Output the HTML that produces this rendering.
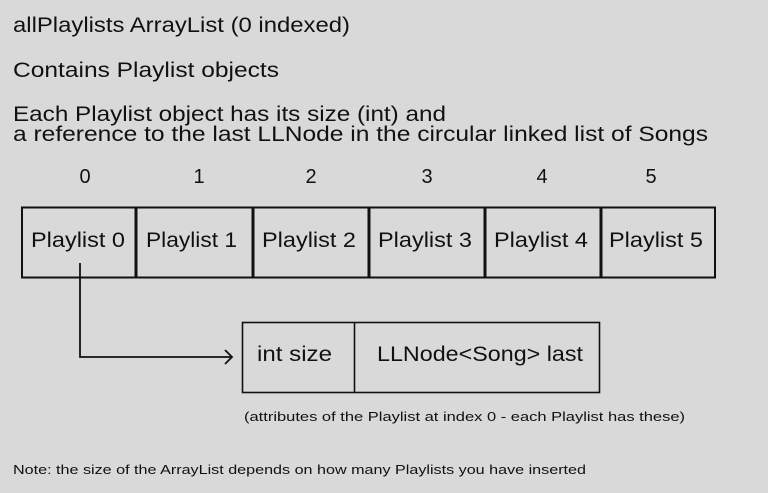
<!DOCTYPE html>
<html><head><meta charset="utf-8"><style>
html,body{margin:0;padding:0;background:#d9d9d9;}
svg{display:block;}
text{font-family:"Liberation Sans",sans-serif;fill:#111;}
</style></head><body>
<svg width="768" height="493" viewBox="0 0 768 493" xmlns="http://www.w3.org/2000/svg">
<rect width="768" height="493" fill="#d9d9d9"/>
<g font-size="21">
<text x="13" y="32" textLength="337" lengthAdjust="spacingAndGlyphs">allPlaylists ArrayList (0 indexed)</text>
<text x="13" y="77" textLength="266" lengthAdjust="spacingAndGlyphs">Contains Playlist objects</text>
<text x="13" y="121" textLength="433" lengthAdjust="spacingAndGlyphs">Each Playlist object has its size (int) and</text>
<text x="13" y="141" textLength="695" lengthAdjust="spacingAndGlyphs">a reference to the last LLNode in the circular linked list of Songs</text>
</g>
<g font-size="20" text-anchor="middle">
<text x="85" y="183">0</text><text x="199" y="183">1</text><text x="311" y="183">2</text>
<text x="427" y="183">3</text><text x="542" y="183">4</text><text x="651" y="183">5</text>
</g>
<g fill="none" stroke="#111">
<rect x="22" y="207.5" width="693" height="70" stroke-width="2"/>
<line x1="136" y1="207" x2="136" y2="278" stroke-width="3"/>
<line x1="253" y1="207" x2="253" y2="278" stroke-width="3"/>
<line x1="369" y1="207" x2="369" y2="278" stroke-width="3"/>
<line x1="485" y1="207" x2="485" y2="278" stroke-width="3"/>
<line x1="601" y1="207" x2="601" y2="278" stroke-width="3"/>
<rect x="242.5" y="322.5" width="357" height="70" stroke-width="1.6"/>
<line x1="354.5" y1="322" x2="354.5" y2="393" stroke-width="1.6"/>
<polyline points="80,263 80,357 232,357" stroke-width="1.8"/>
<polyline points="225,350 232,357 225,364" stroke-width="1.8"/>
</g>
<g font-size="21">
<text x="31" y="247" textLength="94" lengthAdjust="spacingAndGlyphs">Playlist 0</text>
<text x="146" y="247" textLength="91" lengthAdjust="spacingAndGlyphs">Playlist 1</text>
<text x="262" y="247" textLength="94" lengthAdjust="spacingAndGlyphs">Playlist 2</text>
<text x="378" y="247" textLength="94" lengthAdjust="spacingAndGlyphs">Playlist 3</text>
<text x="494" y="247" textLength="94" lengthAdjust="spacingAndGlyphs">Playlist 4</text>
<text x="609" y="247" textLength="94" lengthAdjust="spacingAndGlyphs">Playlist 5</text>
<text x="257" y="361" textLength="75" lengthAdjust="spacingAndGlyphs">int size</text>
<text x="377" y="361" textLength="206" lengthAdjust="spacingAndGlyphs">LLNode&lt;Song&gt; last</text>
</g>
<text x="244" y="421" font-size="13" textLength="441" lengthAdjust="spacingAndGlyphs">(attributes of the Playlist at index 0 - each Playlist has these)</text>
<text x="13" y="474" font-size="13" textLength="573" lengthAdjust="spacingAndGlyphs">Note: the size of the ArrayList depends on how many Playlists you have inserted</text>
</svg>
</body></html>
